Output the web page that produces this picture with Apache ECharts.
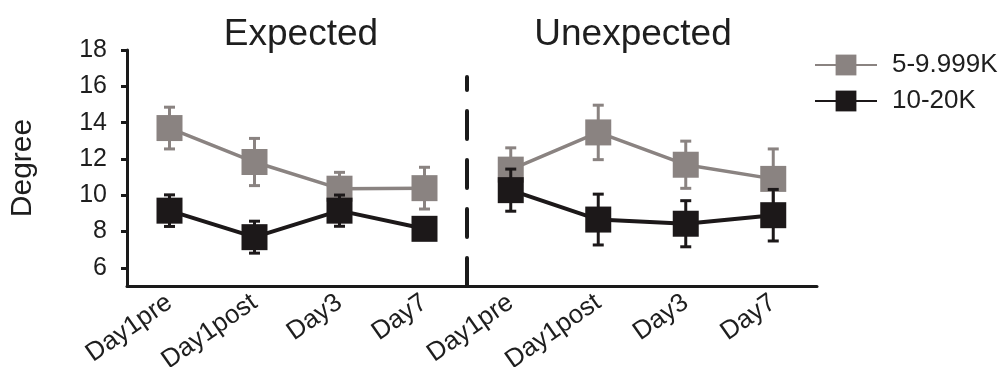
<!DOCTYPE html>
<html>
<head>
<meta charset="utf-8">
<script src="https://cdn.jsdelivr.net/npm/echarts@6/dist/echarts.min.js"></script>
<style>
  html, body { margin: 0; padding: 0; background: #fff; }
  #chart { width: 1002px; height: 367px; }
</style>
</head>
<body>
<div id="chart"></div>
<script>
// ---- data ----
const days = ['Day1pre', 'Day1post', 'Day3', 'Day7'];
const panelTitles = ['Expected', 'Unexpected'];
const groupNames = ['5-9.999K', '10-20K'];
const yTickValues = [6, 8, 10, 12, 14, 16, 18];

const expectedLow = [13.70, 11.83, 10.36, 10.39];
const expectedLowErr = [1.15, 1.30, 0.90, 1.15];
const expectedHigh = [9.15, 7.69, 9.15, 8.15];
const expectedHighErr = [0.87, 0.88, 0.86, 0.50];

const unexpectedLow = [11.41, 13.46, 11.68, 10.90];
const unexpectedLowErr = [1.20, 1.50, 1.30, 1.65];
const unexpectedHigh = [10.28, 8.66, 8.43, 8.90];
const unexpectedHighErr = [1.16, 1.40, 1.27, 1.42];

// ---- layout & style ----
const Y_MIN = 5, Y_MAX = 18;
const PLOT_TOP = 50, PLOT_BOTTOM = 286;
const DIVIDER_TOP = 77;
const FONT = '"Liberation Sans", Arial, Helvetica, sans-serif';
const GRAY = '#8a8381';
const BLACK = '#1c1819';
const AXIS = '#1a1a1a';
const TEXT = '#1e1e1e';

// right panel's y axis only carries the dashed divider; its range keeps the same scale
const yMaxRight = Y_MIN + (Y_MAX - Y_MIN) * (PLOT_BOTTOM - DIVIDER_TOP) / (PLOT_BOTTOM - PLOT_TOP);

function xAxisFor(gridIndex) {
  return {
    type: 'category', gridIndex, data: days,
    axisLine: { lineStyle: { color: AXIS, width: 3 } },
    axisTick: { alignWithLabel: true, length: 6, lineStyle: { color: AXIS, width: 3 } },
    axisLabel: {
      interval: 0, rotate: 35, margin: 14,
      fontFamily: FONT, fontSize: 26, color: TEXT
    }
  };
}

function errorBars(name, means, errs, gridIndex, color, z) {
  return {
    type: 'custom', name, xAxisIndex: gridIndex, yAxisIndex: gridIndex, z,
    silent: true,
    data: means.map((m, i) => [i, m - errs[i], m + errs[i]]),
    encode: { x: 0, y: [1, 2] },
    renderItem(params, api) {
      const i = api.value(0);
      const lo = api.coord([i, api.value(1)]);
      const hi = api.coord([i, api.value(2)]);
      const half = 5.5;
      const style = { stroke: color, lineWidth: 3, fill: null };
      return {
        type: 'group',
        children: [
          { type: 'line', shape: { x1: lo[0], y1: lo[1], x2: hi[0], y2: hi[1] }, style },
          { type: 'line', shape: { x1: lo[0] - half, y1: lo[1], x2: lo[0] + half, y2: lo[1] }, style },
          { type: 'line', shape: { x1: hi[0] - half, y1: hi[1], x2: hi[0] + half, y2: hi[1] }, style }
        ]
      };
    }
  };
}

function meanLine(name, values, gridIndex, color, width, z) {
  return {
    type: 'line', name, xAxisIndex: gridIndex, yAxisIndex: gridIndex, z,
    data: values,
    symbol: 'rect', symbolSize: 26,
    lineStyle: { color, width },
    itemStyle: { color, opacity: 1 },
    emphasis: { disabled: true }
  };
}

const chart = echarts.init(document.getElementById('chart'), null, { renderer: 'canvas' });

chart.setOption({
  animation: false,
  backgroundColor: '#fff',
  textStyle: { fontFamily: FONT },
  graphic: [
    { type: 'text', x: 301, y: 35, style: { text: panelTitles[0], font: '37px ' + FONT, fill: TEXT, align: 'center', verticalAlign: 'middle' } },
    { type: 'text', x: 633, y: 35, style: { text: panelTitles[1], font: '37px ' + FONT, fill: TEXT, align: 'center', verticalAlign: 'middle' } }
  ],
  legend: {
    orient: 'vertical', left: 814, top: 52, padding: 0,
    itemWidth: 62, itemHeight: 26, itemGap: 10,
    data: groupNames,
    textStyle: { fontFamily: FONT, fontSize: 26, color: TEXT, padding: [0, 0, 0, 10] },
    selectedMode: false
  },
  grid: [
    { left: 127, top: PLOT_TOP, width: 340, height: PLOT_BOTTOM - PLOT_TOP, containLabel: false, outerBoundsMode: 'none' },
    { left: 467, top: DIVIDER_TOP, width: 350, height: PLOT_BOTTOM - DIVIDER_TOP, containLabel: false, outerBoundsMode: 'none' }
  ],
  xAxis: [xAxisFor(0), xAxisFor(1)],
  yAxis: [
    {
      type: 'value', gridIndex: 0, min: Y_MIN, max: Y_MAX,
      name: 'Degree', nameLocation: 'middle', nameGap: 89,
      nameTextStyle: { fontFamily: FONT, fontSize: 30, color: TEXT },
      axisLine: { show: true, lineStyle: { color: AXIS, width: 3 } },
      axisTick: { show: true, length: 6, customValues: yTickValues, lineStyle: { color: AXIS, width: 3 } },
      axisLabel: { customValues: yTickValues, margin: 20, fontFamily: FONT, fontSize: 25, color: TEXT },
      splitLine: { show: false }
    },
    {
      type: 'value', gridIndex: 1, min: Y_MIN, max: yMaxRight,
      axisLine: { show: true, lineStyle: { color: AXIS, width: 4, type: [28, 21], dashOffset: 0 } },
      axisTick: { show: false },
      axisLabel: { show: false },
      splitLine: { show: false }
    }
  ],
  series: [
    errorBars('5-9.999K SEM', expectedLow, expectedLowErr, 0, GRAY, 2),
    meanLine(groupNames[0], expectedLow, 0, GRAY, 3.5, 3),
    errorBars('10-20K SEM', expectedHigh, expectedHighErr, 0, BLACK, 4),
    meanLine(groupNames[1], expectedHigh, 0, BLACK, 4, 5),

    errorBars('5-9.999K SEM', unexpectedLow, unexpectedLowErr, 1, GRAY, 2),
    meanLine(groupNames[0], unexpectedLow, 1, GRAY, 3.5, 3),
    errorBars('10-20K SEM', unexpectedHigh, unexpectedHighErr, 1, BLACK, 4),
    meanLine(groupNames[1], unexpectedHigh, 1, BLACK, 4, 5)
  ]
});
</script>
</body>
</html>
